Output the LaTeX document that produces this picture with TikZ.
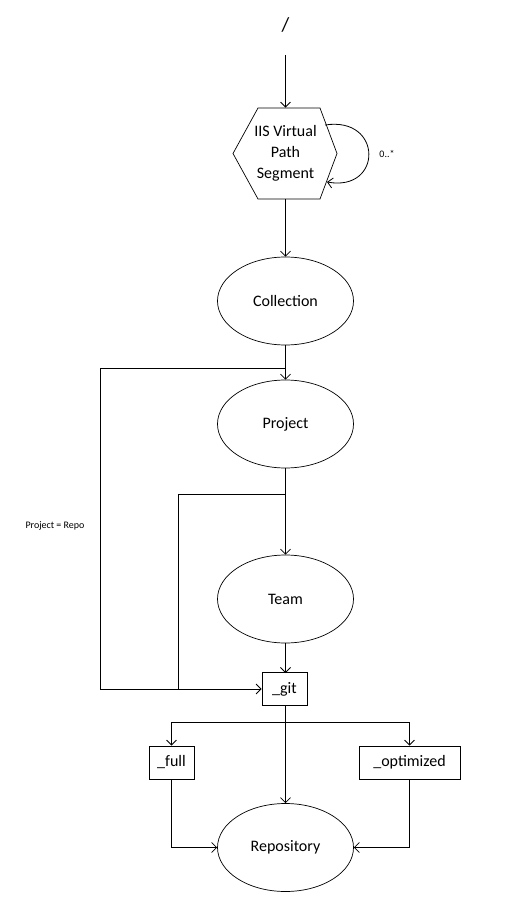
\documentclass[tikz,border=0pt]{standalone}
\usepackage{fontspec}
\setmainfont{Carlito}
\usetikzlibrary{shapes.geometric,arrows.meta}
\begin{document}
\begin{tikzpicture}[x=1pt,y=-1pt,
  line width=0.8pt,
  arr/.style={-{Straight Barb[length=5pt,width=10pt,line width=0.8pt]}},
  ell/.style={draw, ellipse, line width=0.7pt, minimum width=136pt, minimum height=88pt, inner sep=0pt, font=\fontsize{16}{18}\selectfont},
  box/.style={draw, rectangle, line width=0.8pt, minimum height=33pt, inner sep=0pt, font=\fontsize{16}{18}\selectfont},
  small/.style={font=\fontsize{10}{12}\selectfont}]
\useasboundingbox (0,0) rectangle (508,915);
% root
\node[font=\fontsize{20}{22}\selectfont, inner sep=0pt] (root) at (285.5,25) {/};
\coordinate (rootend) at (285.5,55);
% hexagon
\node[minimum width=104pt, minimum height=91pt, inner sep=0pt, align=center,
      font=\fontsize{16}{21}\selectfont] (hex) at (285.5,153.5) {IIS Virtual\\Path\\Segment};
\draw[line width=0.7pt] (258,108) -- (320,108) -- (337,153.5) -- (320,199) -- (258,199) -- (233,153.5) -- cycle;
\coordinate (loopA) at (325,125);
\coordinate (loopB) at (327,182);
\draw[arr] (loopA) .. controls (383,116) and (383,192) .. (loopB);
\node[small] (mult) at (387,154) {0..*};
% ellipses
\node[ell] (coll) at (285.5,301) {Collection};
\node[ell] (proj) at (285.5,424) {Project};
\node[ell] (team) at (285.5,599) {Team};
\node[ell] (repo) at (285.5,847.5) {Repository};
% boxes
\node[box, minimum width=45pt] (git) at (284.5,689) {\_git};
\node[box, minimum width=45pt] (full) at (171.5,762.5) {\_full};
\node[box, minimum width=101pt] (opt) at (409.5,762.5) {\_optimized};
% label
\node[small] (pr) at (55,526) {Project = Repo};
% connectors
\draw[arr] (rootend) -- (hex.north);
\draw[arr] (hex.south) -- (coll.north);
\draw[arr] (coll.south) -- (proj.north);
\coordinate (b1) at (285.5,368);
\draw[arr] (b1) -- (100,368) |- (git.west);
\draw[arr] (proj.south) -- (team.north);
\coordinate (b2) at (285.5,494);
\draw (b2) -- (178,494) -- (178,689);
\draw[arr] (team.south) -- (285.5,673);
\coordinate (b3) at (285.5,722);
\draw[arr] (git.south -| b3) -- (repo.north);
\draw[arr] (b3) -| (full.north);
\draw[arr] (b3) -| (opt.north);
\draw[arr] (full.south) |- (repo.west);
\draw[arr] (opt.south) |- (repo.east);
\end{tikzpicture}
\end{document}
